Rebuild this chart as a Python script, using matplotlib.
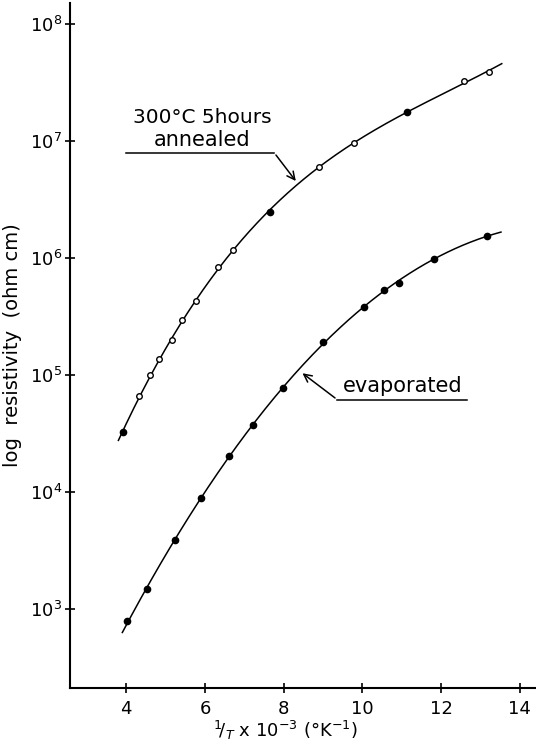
import matplotlib.pyplot as plt
import numpy as np
from matplotlib.ticker import FixedLocator, NullLocator

plt.rcParams['font.family'] = ['DejaVu Sans']
plt.rcParams['mathtext.fontset'] = 'dejavusans'

# annealed sample (300 C, 5 hours): 1/T x 10^-3, log10 resistivity
ann_x = [3.92, 4.33, 4.61, 4.84, 5.15, 5.42, 5.76, 6.34, 6.72, 7.64, 8.89, 9.78, 11.12, 12.58, 13.21]
ann_log = [4.51, 4.82, 5.00, 5.14, 5.30, 5.47, 5.63, 5.92, 6.07, 6.39, 6.78, 6.98, 7.25, 7.51, 7.59]
ann_filled = [True, False, False, False, False, False, False, False, False, True, False, False, True, False, False]
ann_range = [3.80, 13.54]

# evaporated sample
eva_x = [4.03, 4.53, 5.25, 5.90, 6.60, 7.21, 7.97, 9.01, 10.03, 10.56, 10.92, 11.81, 13.16]
eva_log = [2.90, 3.17, 3.59, 3.95, 4.31, 4.57, 4.89, 5.28, 5.58, 5.73, 5.79, 5.99, 6.19]
eva_range = [3.90, 13.52]

x_ticks = [4, 6, 8, 10, 12, 14]
y_ticks = [1e3, 1e4, 1e5, 1e6, 1e7, 1e8]

fig = plt.figure(figsize=(5.36, 7.51), dpi=100)
ax = fig.add_axes([0.1306, 0.0839, 0.8694, 0.912])

for xs, ls, rng in [(ann_x, ann_log, ann_range), (eva_x, eva_log, eva_range)]:
    coef = np.polyfit(xs, ls, 3)
    xx = np.linspace(rng[0], rng[1], 200)
    ax.plot(xx, 10 ** np.polyval(coef, xx), color='black', lw=1.1, zorder=2)

for x, l, f in zip(ann_x, ann_log, ann_filled):
    ax.plot(x, 10 ** l, 'o', ms=4.5 if f else 4.0, mec='black', mew=1.0,
            mfc='black' if f else 'white', zorder=3)
ax.plot(eva_x, 10 ** np.array(eva_log), 'o', ms=4.5, color='black', zorder=3)

ax.set_yscale('log')
ax.set_xlim(2.57, 14.41)
ax.set_ylim(10 ** 2.325, 10 ** 8.18)
ax.xaxis.set_major_locator(FixedLocator(x_ticks))
ax.yaxis.set_major_locator(FixedLocator(y_ticks))
ax.yaxis.set_minor_locator(NullLocator())
ax.set_xticklabels([str(t) for t in x_ticks])

for s in ['top', 'right']:
    ax.spines[s].set_visible(False)
for s in ['left', 'bottom']:
    ax.spines[s].set_linewidth(1.5)
ax.tick_params(direction='inout', length=7, width=1.2, labelsize=13)
ax.tick_params(axis='x', pad=5)
ax.tick_params(axis='y', pad=2)

ax.set_ylabel('log  resistivity  (ohm cm)', fontsize=14, labelpad=6)
fig.text(0.532, 0.028, r'$^1\!/_T$ x 10$^{-3}$ (°K$^{-1}$)', fontsize=13, ha='center', va='center')

# annotations
ax.text(4.18, 10 ** 7.2, '300°C 5hours', fontsize=14.5, ha='left', va='center')
ax.text(4.7, 10 ** 7.01, 'annealed', fontsize=15, ha='left', va='center')
ax.plot([4.0, 7.76], [10 ** 6.9, 10 ** 6.9], color='black', lw=1.1)
ax.annotate('', xy=(8.35, 10 ** 6.64), xytext=(7.76, 10 ** 6.9),
            arrowprops=dict(arrowstyle='->', color='black', lw=1.1, mutation_scale=14))

ax.text(9.5, 10 ** 4.91, 'evaporated', fontsize=15, ha='left', va='center')
ax.plot([9.36, 12.66], [10 ** 4.79, 10 ** 4.79], color='black', lw=1.1)
ax.annotate('', xy=(8.42, 10 ** 5.03), xytext=(9.36, 10 ** 4.79),
            arrowprops=dict(arrowstyle='->', color='black', lw=1.1, mutation_scale=14))

fig.savefig('out.png', dpi=100)
